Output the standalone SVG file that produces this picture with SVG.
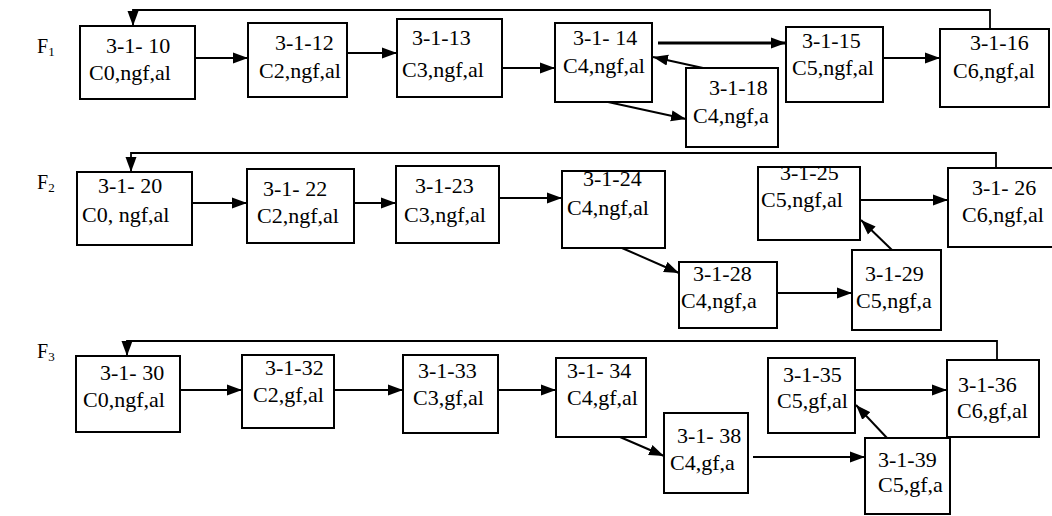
<svg xmlns="http://www.w3.org/2000/svg" width="1052" height="516" viewBox="0 0 1052 516">
  <style>
    .box { fill: #fff; stroke: #000; stroke-width: 2; }
    .lbl { font-family: "Liberation Serif", "DejaVu Serif", serif; font-size: 22px; fill: #000; }
    .row { font-family: "Liberation Serif", "DejaVu Serif", serif; font-size: 20px; fill: #000; }
    .sub { font-size: 13px; }
    .con { fill: none; stroke: #000; stroke-width: 2; marker-end: url(#arr); }
    .fb { fill: none; stroke: #000; stroke-width: 1.8; marker-end: url(#arr); }
  </style>
  <defs>
    <marker id="arr" markerUnits="userSpaceOnUse" markerWidth="16" markerHeight="12" refX="15" refY="6" orient="auto">
      <path d="M0,0.5 L15,6 L0,11.5 z" fill="#000"/>
    </marker>
  </defs>
  <rect width="1052" height="516" fill="#fff"/>

  <!-- row labels -->
  <g font-family="Liberation Serif, DejaVu Serif, serif">
    <text class="row" x="37" y="53">F<tspan class="sub" dy="3">1</tspan></text>
    <text class="row" x="37" y="189">F<tspan class="sub" dy="3">2</tspan></text>
    <text class="row" x="37" y="358">F<tspan class="sub" dy="3">3</tspan></text>
  </g>

  <!-- connectors -->
  <g id="connectors">
    <!-- F1 -->
    <path class="fb" d="M990,29 V10 H133 V26"/>
    <path class="con" d="M195,58 H248"/>
    <path class="con" d="M347,53 H397"/>
    <path class="con" d="M502,68 H555"/>
    <path class="con" d="M658,43 H786" style="stroke-width:3"/>
    <path class="con" d="M883,58 H940"/>
    <path class="con" d="M703,68 L653,57"/>
    <path class="con" d="M608,102 L686,119"/>
    <!-- F2 -->
    <path class="fb" d="M996,168 V153 H131 V172"/>
    <path class="con" d="M192,203 H247"/>
    <path class="con" d="M354,203 H396"/>
    <path class="con" d="M499,198 H562"/>
    <path class="con" d="M622,248 L679,273"/>
    <path class="con" d="M777,293 H852"/>
    <path class="con" d="M892,250 L861,220"/>
    <path class="con" d="M860,200 H948"/>
    <!-- F3 -->
    <path class="fb" d="M997,360 V341 H127 V356"/>
    <path class="con" d="M180,390 H242"/>
    <path class="con" d="M334,390 H403"/>
    <path class="con" d="M498,390 H556"/>
    <path class="con" d="M620,437 L664,456"/>
    <path class="con" d="M753,457 H865"/>
    <path class="con" d="M887,438 L856,405"/>
    <path class="con" d="M855,390 H947"/>
  </g>

  <g font-family="Liberation Serif, DejaVu Serif, serif">
  <!-- F1 nodes -->
  <g id="n3-1-10"><rect class="box" x="80" y="26" width="115" height="73"/><text class="lbl" x="106" y="53">3-1- 10</text><text class="lbl" x="89" y="80">C0,ngf,al</text></g>
  <g id="n3-1-12"><rect class="box" x="248" y="23" width="99" height="74"/><text class="lbl" x="275" y="50">3-1-12</text><text class="lbl" x="259" y="78">C2,ngf,al</text></g>
  <g id="n3-1-13"><rect class="box" x="397" y="19" width="105" height="78"/><text class="lbl" x="412" y="45">3-1-13</text><text class="lbl" x="402" y="77">C3,ngf,al</text></g>
  <g id="n3-1-14"><rect class="box" x="555" y="23" width="97" height="79"/><text class="lbl" x="573" y="45">3-1- 14</text><text class="lbl" x="563" y="73">C4,ngf,al</text></g>
  <g id="n3-1-15"><rect class="box" x="786" y="27" width="97" height="75"/><text class="lbl" x="802" y="48">3-1-15</text><text class="lbl" x="792" y="75">C5,ngf,al</text></g>
  <g id="n3-1-16"><rect class="box" x="940" y="29" width="109" height="78"/><text class="lbl" x="970" y="50">3-1-16</text><text class="lbl" x="953" y="78">C6,ngf,al</text></g>
  <g id="n3-1-18"><rect class="box" x="686" y="68" width="92" height="79"/><text class="lbl" x="709" y="95">3-1-18</text><text class="lbl" x="693" y="123">C4,ngf,a</text></g>

  <!-- F2 nodes -->
  <g id="n3-1-20"><rect class="box" x="77" y="172" width="115" height="73"/><text class="lbl" x="98" y="193">3-1- 20</text><text class="lbl" x="82" y="222">C0, ngf,al</text></g>
  <g id="n3-1-22"><rect class="box" x="247" y="169" width="107" height="74"/><text class="lbl" x="263" y="196">3-1- 22</text><text class="lbl" x="257" y="223">C2,ngf,al</text></g>
  <g id="n3-1-23"><rect class="box" x="396" y="166" width="103" height="77"/><text class="lbl" x="415" y="193">3-1-23</text><text class="lbl" x="404" y="222">C3,ngf,al</text></g>
  <g id="n3-1-24"><rect class="box" x="562" y="171" width="103" height="77"/><text class="lbl" x="583" y="186">3-1-24</text><text class="lbl" x="567" y="215">C4,ngf,al</text></g>
  <g id="n3-1-25"><rect class="box" x="758" y="167" width="102" height="73"/><text class="lbl" x="780" y="180">3-1-25</text><text class="lbl" x="761" y="207">C5,ngf,al</text></g>
  <g id="n3-1-26"><rect class="box" x="948" y="168" width="110" height="79"/><text class="lbl" x="972" y="195">3-1- 26</text><text class="lbl" x="962" y="222">C6,ngf,al</text></g>
  <g id="n3-1-28"><rect class="box" x="679" y="262" width="98" height="66"/><text class="lbl" x="693" y="281">3-1-28</text><text class="lbl" x="681" y="308">C4,ngf,a</text></g>
  <g id="n3-1-29"><rect class="box" x="852" y="250" width="89" height="80"/><text class="lbl" x="865" y="281">3-1-29</text><text class="lbl" x="856" y="308">C5,ngf,a</text></g>

  <!-- F3 nodes -->
  <g id="n3-1-30"><rect class="box" x="76" y="356" width="104" height="76"/><text class="lbl" x="100" y="380">3-1- 30</text><text class="lbl" x="83" y="407">C0,ngf,al</text></g>
  <g id="n3-1-32"><rect class="box" x="242" y="355" width="92" height="73"/><text class="lbl" x="265" y="375">3-1-32</text><text class="lbl" x="253" y="402">C2,gf,al</text></g>
  <g id="n3-1-33"><rect class="box" x="403" y="355" width="95" height="78"/><text class="lbl" x="418" y="378">3-1-33</text><text class="lbl" x="413" y="405">C3,gf,al</text></g>
  <g id="n3-1-34"><rect class="box" x="556" y="358" width="90" height="79"/><text class="lbl" x="567" y="378">3-1- 34</text><text class="lbl" x="567" y="405">C4,gf,al</text></g>
  <g id="n3-1-35"><rect class="box" x="768" y="358" width="87" height="75"/><text class="lbl" x="783" y="382">3-1-35</text><text class="lbl" x="777" y="408">C5,gf,al</text></g>
  <g id="n3-1-36"><rect class="box" x="947" y="360" width="92" height="77"/><text class="lbl" x="958" y="392">3-1-36</text><text class="lbl" x="957" y="418">C6,gf,al</text></g>
  <g id="n3-1-38"><rect class="box" x="664" y="413" width="84" height="80"/><text class="lbl" x="677" y="443">3-1- 38</text><text class="lbl" x="670" y="470">C4,gf,a</text></g>
  <g id="n3-1-39"><rect class="box" x="865" y="438" width="85" height="76"/><text class="lbl" x="878" y="467">3-1-39</text><text class="lbl" x="878" y="492">C5,gf,a</text></g>
  </g>
</svg>
